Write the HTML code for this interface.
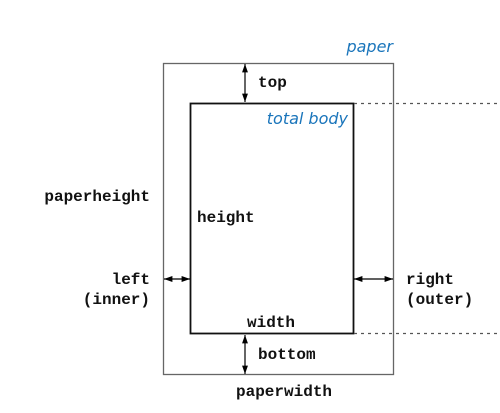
<!DOCTYPE html>
<html><head><meta charset="utf-8"><style>
html,body{margin:0;padding:0;background:#fff;}
svg{display:block;}
.m{font-family:"Liberation Mono",monospace;font-size:16px;font-weight:bold;fill:#111;}
.b{font-family:"DejaVu Sans","Liberation Sans",sans-serif;font-style:italic;font-size:16px;fill:#1a75bb;}
</style></head><body>
<svg width="500" height="413" viewBox="0 0 500 413" xmlns="http://www.w3.org/2000/svg">
<defs>
<marker id="a" viewBox="0 0 10 10" refX="10" refY="5" markerWidth="7" markerHeight="7" orient="auto-start-reverse"><path d="M0,1.5 L10,5 L0,8.5 Z" fill="#000"/></marker>
</defs>
<rect x="163.5" y="63.5" width="230" height="311" fill="none" stroke="#666" stroke-width="1.3"/>
<rect x="190.5" y="103.5" width="163" height="230" fill="none" stroke="#111" stroke-width="1.8"/>
<line x1="354" y1="103.5" x2="500" y2="103.5" stroke="#555" stroke-width="1.2" stroke-dasharray="3,4"/>
<line x1="354" y1="333.5" x2="500" y2="333.5" stroke="#555" stroke-width="1.2" stroke-dasharray="3,4"/>
<line x1="245" y1="64" x2="245" y2="102" stroke="#000" stroke-width="1.2" marker-start="url(#a)" marker-end="url(#a)"/>
<line x1="245" y1="335" x2="245" y2="374" stroke="#000" stroke-width="1.2" marker-start="url(#a)" marker-end="url(#a)"/>
<line x1="164" y1="279" x2="190" y2="279" stroke="#000" stroke-width="1.2" marker-start="url(#a)" marker-end="url(#a)"/>
<line x1="354" y1="279" x2="393" y2="279" stroke="#000" stroke-width="1.2" marker-start="url(#a)" marker-end="url(#a)"/>
<text class="b" x="393" y="52" text-anchor="end">paper</text>
<text class="b" x="348" y="124" text-anchor="end">total body</text>
<text class="m" x="258" y="87">top</text>
<text class="m" x="150" y="201" text-anchor="end">paperheight</text>
<text class="m" x="197" y="222">height</text>
<text class="m" x="150" y="284" text-anchor="end">left</text>
<text class="m" x="150" y="304" text-anchor="end">(inner)</text>
<text class="m" x="406" y="284">right</text>
<text class="m" x="406" y="304">(outer)</text>
<text class="m" x="247" y="327">width</text>
<text class="m" x="258" y="359">bottom</text>
<text class="m" x="236" y="396">paperwidth</text>
</svg>
</body></html>
